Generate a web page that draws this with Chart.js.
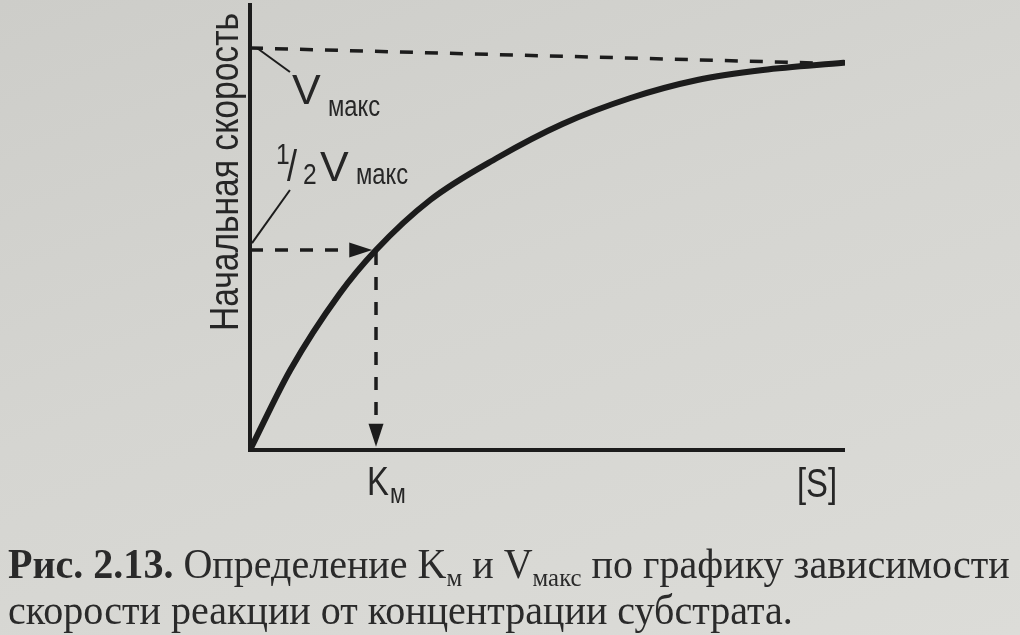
<!DOCTYPE html>
<html lang="ru">
<head>
<meta charset="utf-8">
<title>Рис. 2.13</title>
<script src="https://cdn.jsdelivr.net/npm/chart.js@4.4.1/dist/chart.umd.min.js"></script>
<style>
  html, body { margin: 0; padding: 0; }
  body {
    width: 1020px; height: 635px; overflow: hidden; position: relative;
    background: linear-gradient(160deg, #cdcdc9 0%, #d5d5d1 45%, #dcdcd8 100%);
  }
  #chart { position: absolute; left: 0; top: 0; }
  .caption {
    position: absolute; left: 8px;
    font-family: "Liberation Serif", "Times New Roman", serif;
    font-size: 42px; line-height: 1; color: #2a2a2a;
    white-space: nowrap; transform-origin: 0 0;
  }
  .caption sub { font-size: 0.62em; vertical-align: -0.3em; line-height: 0; }
</style>
</head>
<body>
<canvas id="chart" width="1020" height="635"></canvas>
<div class="caption" id="cap1"><b>Рис. 2.13.</b> Определение K<sub>м</sub> и V<sub>макс</sub> по графику зависимости</div>
<div class="caption" id="cap2">скорости реакции от концентрации субстрата.</div>
<script>
// curve: [S] in units of Km, v in units of Vmax
const sConc = [0, 0.32, 0.71, 1.0, 1.43, 1.96, 2.48, 3.02, 3.55, 4.07, 4.71];
const vRate = [0, 0.2, 0.39, 0.5, 0.625, 0.73, 0.815, 0.88, 0.925, 0.95, 0.968];

// guide lines
const vmaxLineS = [0, 4.55];
const vmaxLineV = [1.005, 0.967];
const halfLineS = [0, 0.97];
const halfLineV = [0.5, 0.5];
const kmLineS = [1.0, 1.0];
const kmLineV = [0.495, 0.008];
const vmaxLeaderS = [0.055, 0.317];
const vmaxLeaderV = [1.005, 0.945];
const halfLeaderS = [0.016, 0.317];
const halfLeaderV = [0.517, 0.65];

const S_MAX = 4.722;
const V_MAX_AXIS = 1.1175;

const yTitle = 'Начальная скорость';
const xTitle = '[S]';
const subMax = 'макс';

const INK = '#1c1c1c';
const SANS = '"Liberation Sans", Arial, sans-serif';
const NARROW = 0.82; // the print uses a condensed grotesque

const pts = (xs, ys) => xs.map((x, i) => ({ x: x, y: ys[i] }));

const dashed = (xs, ys, arrow) => ({
    data: pts(xs, ys),
    borderColor: INK,
    borderWidth: 3.5,
    borderDash: [13, 12],
    pointRadius: 0,
    tension: 0,
    arrow: arrow
});

const leader = (xs, ys) => ({
    data: pts(xs, ys),
    borderColor: INK,
    borderWidth: 2,
    pointRadius: 0,
    tension: 0
});

// axes drawn from the scales
const axesPlugin = {
    id: 'axes',
    beforeDatasetsDraw(chart) {
        const { ctx, scales: { x, y } } = chart;
        const x0 = x.getPixelForValue(0), y0 = y.getPixelForValue(0);
        ctx.save();
        ctx.strokeStyle = INK;
        ctx.lineWidth = 4;
        ctx.beginPath();
        ctx.moveTo(x0, y.getPixelForValue(V_MAX_AXIS));
        ctx.lineTo(x0, y0 + 2);
        ctx.moveTo(x0 - 2, y0);
        ctx.lineTo(x.getPixelForValue(S_MAX), y0);
        ctx.stroke();
        ctx.restore();
    }
};

// arrow heads at the end of flagged datasets
const arrowPlugin = {
    id: 'arrows',
    afterDatasetsDraw(chart) {
        const ctx = chart.ctx;
        chart.data.datasets.forEach((ds, i) => {
            if (!ds.arrow) return;
            const els = chart.getDatasetMeta(i).data;
            const a = els[els.length - 2], b = els[els.length - 1];
            const ang = Math.atan2(b.y - a.y, b.x - a.x);
            const len = 23, half = 7.5;
            ctx.save();
            ctx.translate(b.x, b.y);
            ctx.rotate(ang);
            ctx.fillStyle = INK;
            ctx.beginPath();
            ctx.moveTo(0, 0);
            ctx.lineTo(-len, -half);
            ctx.lineTo(-len, half);
            ctx.closePath();
            ctx.fill();
            ctx.restore();
        });
    }
};

const labelPlugin = {
    id: 'labels',
    afterDraw(chart) {
        const { ctx, scales: { x, y } } = chart;
        const x0 = x.getPixelForValue(0);
        const put = (s, px, py, size, sx) => {
            ctx.save();
            ctx.translate(px, py);
            ctx.scale(sx || NARROW, 1);
            ctx.font = size + 'px ' + SANS;
            ctx.fillText(s, 0, 0);
            ctx.restore();
        };
        ctx.save();
        ctx.fillStyle = '#262626';
        ctx.textBaseline = 'alphabetic';
        ctx.textAlign = 'left';

        // y axis title
        ctx.save();
        ctx.translate(x0 - 12, 172);
        ctx.rotate(-Math.PI / 2);
        ctx.textAlign = 'center';
        put(yTitle, 0, 0, 41);
        ctx.restore();

        // V макс
        put('V', x0 + 42, 104, 43, 1);
        put(subMax, x0 + 78, 116, 29);

        // 1/2 V макс
        put('1', x0 + 26, 164, 30);
        put('/', x0 + 37, 181, 44);
        put('2', x0 + 53, 184, 30);
        put('V', x0 + 70, 181, 43, 1);
        put(subMax, x0 + 106, 184, 29);

        // K м
        const km = x.getPixelForValue(kmLineS[0]);
        put('K', km - 9, 495, 40);
        put('м', km + 14, 503, 28);

        // [S]
        put(xTitle, x.getPixelForValue(S_MAX) - 48, 497, 40);
        ctx.restore();
    }
};

new Chart(document.getElementById('chart'), {
    type: 'line',
    data: {
        datasets: [
            {
                data: pts(sConc, vRate),
                borderColor: INK,
                borderWidth: 6,
                borderCapStyle: 'round',
                pointRadius: 0,
                cubicInterpolationMode: 'monotone'
            },
            dashed(vmaxLineS, vmaxLineV, false),
            dashed(halfLineS, halfLineV, true),
            dashed(kmLineS, kmLineV, true),
            leader(vmaxLeaderS, vmaxLeaderV),
            leader(halfLeaderS, halfLeaderV)
        ]
    },
    options: {
        responsive: false,
        animation: false,
        devicePixelRatio: 1,
        events: [],
        layout: { padding: { left: 250, right: 175, top: 3, bottom: 185 } },
        scales: {
            x: { type: 'linear', min: 0, max: S_MAX, display: false },
            y: { type: 'linear', min: 0, max: V_MAX_AXIS, display: false }
        },
        plugins: {
            legend: { display: false },
            tooltip: { enabled: false }
        }
    },
    plugins: [axesPlugin, arrowPlugin, labelPlugin]
});

// caption: fit first line to the printed width
const cap1 = document.getElementById('cap1');
const cap2 = document.getElementById('cap2');
cap1.style.top = '543px';
cap2.style.top = '589px';
const k = 1002 / cap1.offsetWidth;
cap1.style.transform = 'scaleX(' + k + ')';
cap2.style.transform = 'scaleX(' + k + ')';
</script>
</body>
</html>
